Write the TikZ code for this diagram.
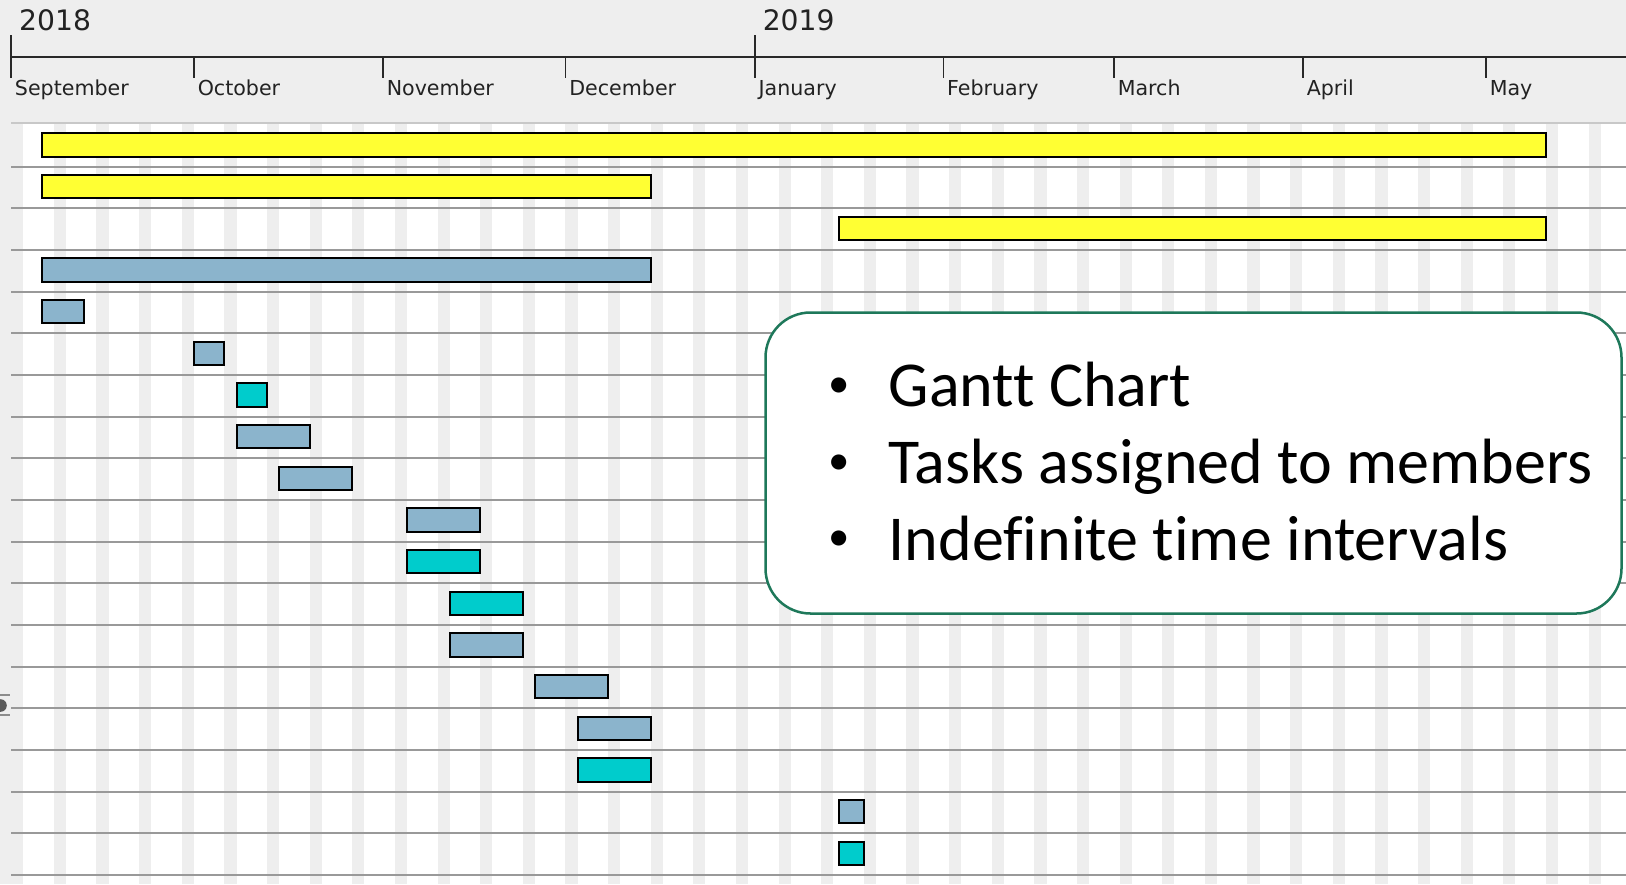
\documentclass[tikz,border=0pt]{standalone}
\usepackage{fontspec}
\newfontfamily\chartfont{DejaVu Sans}
\newfontfamily\notefont[Ligatures=NoCommon]{Carlito}

\tikzset{every picture/.style={line width=0.75pt}}
\tikzset{
  taskbar/.style={draw={rgb, 255:red, 0; green, 0; blue, 0 }, line width=1pt},
  yellowbar/.style={taskbar, fill={rgb, 255:red, 255; green, 255; blue, 51 }},
  bluebar/.style={taskbar, fill={rgb, 255:red, 139; green, 180; blue, 204 }},
  cyanbar/.style={taskbar, fill={rgb, 255:red, 0; green, 204; blue, 204 }},
  weekend/.style={fill={rgb, 255:red, 238; green, 238; blue, 238 }},
  rowline/.style={draw={rgb, 255:red, 153; green, 153; blue, 153 }, line width=1pt},
  axisline/.style={draw={rgb, 255:red, 40; green, 40; blue, 40 }},
  yearlabel/.style={anchor=base west, inner sep=0pt, text={rgb, 255:red, 34; green, 34; blue, 34 }, font=\chartfont\fontsize{14.1}{16}\selectfont},
  monthlabel/.style={anchor=base west, inner sep=0pt, text={rgb, 255:red, 34; green, 34; blue, 34 }, font=\chartfont\fontsize{10.3}{12}\selectfont},
  notetext/.style={anchor=base west, inner sep=0pt, font=\notefont\fontsize{32}{36}\selectfont},
  notebullet/.style={anchor=base, inner sep=0pt, font=\notefont\fontsize{21.4}{24}\selectfont}
}

\begin{document}
\begin{tikzpicture}[x=0.5pt,y=0.5pt,yscale=-1,xscale=1]
\useasboundingbox (0,0) rectangle (1626,884);

%Panel background
\fill [weekend] (0,0) rectangle (1626,884);
\fill [white] (11.2,123.3) rectangle (1626,884);
%Weekend stripes, one every seven days from 1 September
\foreach \k in {0,...,37}
  \fill [weekend] ({11.2+42.63*\k},123.3) rectangle ({23.38+42.63*\k},884);
%Top edge of the task area
\draw [draw={rgb, 255:red, 200; green, 200; blue, 200 }, line width=1pt] (11.2,123.3) -- (1626,123.3);
%Row separators
\foreach \k in {0,...,17}
  \draw [rowline] (11.2,{166.7+41.67*\k}) -- (1626,{166.7+41.67*\k});

%Time axis
\draw [axisline, line width=1pt] (11.2,57) -- (1626,57);
\draw [axisline] (11.2,35) -- (11.2,78);
\draw [axisline] (754.9,35) -- (754.9,78);
\foreach \x in {193.9,383,565.6,943.4,1114,1303,1486}
  \draw [axisline] (\x,57) -- (\x,78);

% Text Node
\node (y2018) [yearlabel] at (18.5,30.7) {2018};
% Text Node
\node (y2019) [yearlabel] at (762,30.7) {2019};
% Text Node
\node (sep) [monthlabel] at (14.2,95) {September};
\node (oct) [monthlabel] at (197,95) {October};
\node (nov) [monthlabel] at (386,95) {November};
\node (dec) [monthlabel] at (568.6,95) {December};
\node (jan) [monthlabel] at (757.9,95) {January};
\node (feb) [monthlabel] at (946.4,95) {February};
\node (mar) [monthlabel] at (1117,95) {March};
\node (apr) [monthlabel] at (1306,95) {April};
\node (may) [monthlabel] at (1489,95) {May};

%Task bars
\draw [yellowbar] (41.65,133.3) rectangle (1545.9,156.7);
\draw [yellowbar] (41.65,175.0) rectangle (650.65,198.4);
\draw [yellowbar] (839.44,216.6) rectangle (1545.9,240.0);
\draw [bluebar] (41.65,258.3) rectangle (650.65,281.7);
\draw [bluebar] (41.65,300.0) rectangle (84.28,323.4);
\draw [bluebar] (193.9,341.7) rectangle (224.35,365.1);
\draw [cyanbar] (236.53,383.3) rectangle (266.98,406.7);
\draw [bluebar] (236.53,425.0) rectangle (309.61,448.4);
\draw [bluebar] (279.16,466.7) rectangle (352.24,490.1);
\draw [bluebar] (407.05,508.3) rectangle (480.13,531.7);
\draw [cyanbar] (407.05,550.0) rectangle (480.13,573.4);
\draw [cyanbar] (449.68,591.7) rectangle (522.76,615.1);
\draw [bluebar] (449.68,633.3) rectangle (522.76,656.7);
\draw [bluebar] (534.94,675.0) rectangle (608.02,698.4);
\draw [bluebar] (577.57,716.7) rectangle (650.65,740.1);
\draw [cyanbar] (577.57,758.3) rectangle (650.65,781.7);
\draw [bluebar] (839.44,800.0) rectangle (863.8,823.4);
\draw [cyanbar] (839.44,841.7) rectangle (863.8,865.1);

%Splitter handle on the left edge
\draw [draw={rgb, 255:red, 140; green, 140; blue, 140 }, line width=1pt] (0,695) -- (10,695) (0,715) -- (10,715);
\fill [fill={rgb, 255:red, 90; green, 90; blue, 90 }] (0.5,705.5) circle (6.3);

%Rounded Rect
\node (notes) [draw={rgb, 255:red, 30; green, 120; blue, 90 }, line width=1.25pt, fill=white, rounded corners=22.5pt, minimum width=428pt, minimum height=150.5pt, inner sep=0pt] at (1193.5,463) {};

% Text Node
\node (b1) [notebullet] at (839,397.3) {•};
\node (gantt) [notetext] at (888,406.7) {Gantt Chart};
% Text Node
\node (b2) [notebullet] at (839,474) {•};
\node (tasks) [notetext] at (888,483.3) {Tasks assigned to members};
% Text Node
\node (b3) [notebullet] at (839,550.6) {•};
\node (indef) [notetext] at (888,560) {Indefinite time intervals};

\end{tikzpicture}
\end{document}
